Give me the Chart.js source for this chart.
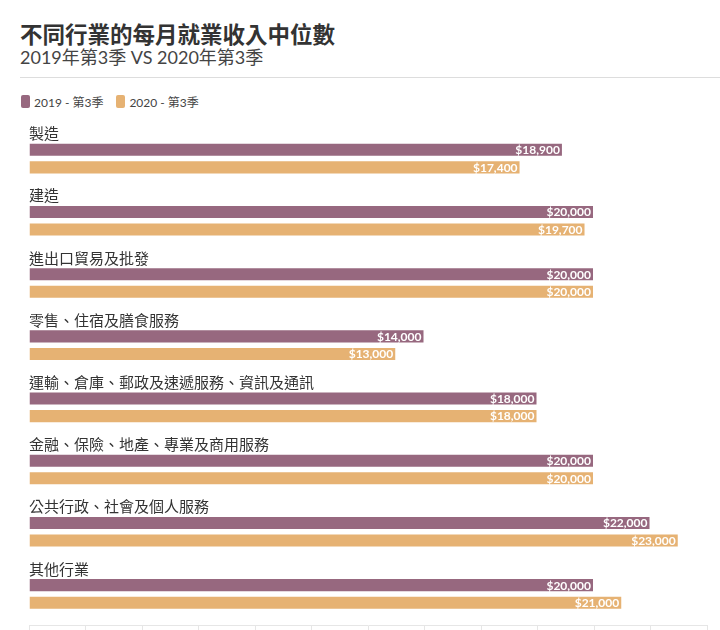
<!DOCTYPE html>
<html>
<head>
<meta charset="utf-8">
<script src="https://cdn.jsdelivr.net/npm/chart.js@4"></script>
<style>
  html, body { margin: 0; padding: 0; width: 720px; height: 630px; overflow: hidden; background: #fff; }
  body { font-family: Lato, "Noto Sans CJK TC", sans-serif; position: relative; }
  .titre { position: absolute; left: 20px; top: 19px; font-size: 22.5px; font-weight: bold; color: #333; font-family: "Noto Sans CJK TC", sans-serif; line-height: 28px; }
  .sous-titre { position: absolute; left: 20px; top: 45px; font-size: 18px; color: #444; line-height: 24px; }
  .trait { position: absolute; left: 20px; top: 77px; width: 700px; height: 1px; background: #ddd; }
  .legende { position: absolute; left: 21px; top: 93px; font-size: 12px; color: #444; display: flex; }
  .legende span { display: flex; align-items: center; margin-right: 13px; }
  .legende i { display: inline-block; width: 9px; height: 13px; border-radius: 2px; margin-right: 4px; }
  #graphe { position: absolute; left: 0; top: 110px; }
</style>
</head>
<body>
<div class="titre">不同行業的每月就業收入中位數</div>
<div class="sous-titre">2019年第3季 VS 2020年第3季</div>
<div class="trait"></div>
<div class="legende">
  <span><i style="background:#97687f"></i>2019 - 第3季</span>
  <span><i style="background:#e6b273"></i>2020 - 第3季</span>
</div>
<canvas id="graphe" width="720" height="530"></canvas>
<script>
const categories = ['製造', '建造', '進出口貿易及批發', '零售、住宿及膳食服務', '運輸、倉庫、郵政及速遞服務、資訊及通訊', '金融、保險、地產、專業及商用服務', '公共行政、社會及個人服務', '其他行業'];
const valeurs2019 = [18900, 20000, 20000, 14000, 18000, 20000, 22000, 20000];
const valeurs2020 = [17400, 19700, 20000, 13000, 18000, 20000, 23000, 21000];
const series = ['2019 - 第3季', '2020 - 第3季'];

// noms des categories au-dessus de chaque paire de barres
const nomsCategories = {
    id: 'nomsCategories',
    afterDatasetsDraw(chart) {
        const ctx = chart.ctx;
        const y = chart.scales.y;
        ctx.save();
        ctx.font = '15px "Noto Sans CJK TC", sans-serif';
        ctx.fillStyle = '#333';
        ctx.textAlign = 'left';
        ctx.textBaseline = 'middle';
        categories.forEach((c, i) => {
            ctx.fillText(c, chart.chartArea.left, y.getPixelForValue(i) - 25);
        });
        ctx.restore();
    }
};

// valeurs en blanc au bout des barres
const etiquettes = {
    id: 'etiquettes',
    afterDatasetsDraw(chart) {
        const ctx = chart.ctx;
        ctx.save();
        ctx.font = 'bold 12px Lato, sans-serif';
        ctx.fillStyle = '#fff';
        ctx.textAlign = 'right';
        ctx.textBaseline = 'middle';
        chart.data.datasets.forEach((ds, d) => {
            chart.getDatasetMeta(d).data.forEach((bar, i) => {
                ctx.fillText('$' + ds.data[i].toLocaleString('en-US'), bar.x - 3, bar.y + 0.5);
            });
        });
        ctx.restore();
    }
};

new Chart(document.getElementById('graphe'), {
    type: 'bar',
    data: {
        labels: categories,
        datasets: [
            { label: series[0], data: valeurs2019, backgroundColor: '#97687f', borderColor: 'rgba(255,255,255,0.5)', borderWidth: 1 },
            { label: series[1], data: valeurs2020, backgroundColor: '#e6b273', borderColor: 'rgba(255,255,255,0.5)', borderWidth: 1 }
        ]
    },
    options: {
        indexAxis: 'y',
        responsive: false,
        animation: false,
        categoryPercentage: 0.564,
        barPercentage: 0.8,
        layout: { padding: { left: 29, right: 13, top: 17.5, bottom: 0 } },
        scales: {
            x: {
                min: 0,
                max: 24000,
                ticks: { display: false, stepSize: 2000 },
                grid: { drawOnChartArea: false, tickLength: 15, color: '#e6e6e6' },
                border: { display: true, color: '#e6e6e6' }
            },
            y: { display: false }
        },
        plugins: {
            legend: { display: false },
            tooltip: { enabled: false }
        }
    },
    plugins: [nomsCategories, etiquettes]
});
</script>
</body>
</html>
